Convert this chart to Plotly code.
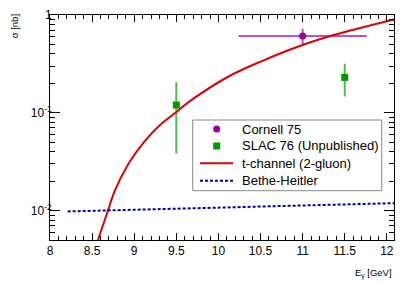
import plotly.graph_objects as go

# Data
cornell_x = [11.0]
cornell_y = [0.61]
cornell_xerr = [0.75]
cornell_yerr_plus = [0.10]
cornell_yerr_minus = [0.10]

slac_x = [9.5, 11.5]
slac_y = [0.12, 0.23]
slac_yerr_plus = [0.08, 0.08]
slac_yerr_minus = [0.081, 0.08]

tchan_x = [8.54, 8.57, 8.69, 8.77, 8.93, 9.13, 9.33, 9.49, 9.60, 9.72, 10.12, 10.51, 10.99, 11.36, 12.085]
tchan_y = [0.0041, 0.005, 0.0101, 0.016, 0.030, 0.052, 0.078, 0.100, 0.12, 0.143, 0.235, 0.336, 0.49, 0.62, 0.90]

bh_x = [8.21, 10.14, 12.085]
bh_y = [0.0098, 0.0108, 0.0119]

legend_names = ["Cornell 75", "SLAC 76 (Unpublished)", "t-channel (2-gluon)", "Bethe-Heitler"]

x_major = [8, 8.5, 9, 9.5, 10, 10.5, 11, 11.5, 12]
x_major_text = ["8", "8.5", "9", "9.5", "10", "10.5", "11", "11.5", "12"]
y_major = [0.01, 0.1, 1]
y_major_text = ["10<sup>-2</sup>", "10<sup>-1</sup>", "1"]

FONT = "Liberation Sans, Arial, Helvetica, sans-serif"
C_CORNELL = "#990099"
C_CORNELL_ERR = "#c050c0"
C_SLAC = "#009900"
C_SLAC_ERR = "#55bb55"
C_T = "#dd0000"
C_BH = "#0000aa"

x_minor = [round(8 + 0.1 * i, 2) for i in range(41)]
y_minor = [m * 10.0 ** e for e in (-3, -2, -1) for m in range(2, 10)]
y_minor = [v for v in y_minor if 0.005 <= v <= 1]

fig = go.Figure()

fig.add_trace(go.Scatter(
    x=cornell_x, y=cornell_y, mode="markers", name=legend_names[0], showlegend=False,
    marker=dict(symbol="circle", size=7, color=C_CORNELL),
    error_x=dict(type="data", array=cornell_xerr, color=C_CORNELL_ERR, thickness=2, width=1),
    error_y=dict(type="data", array=cornell_yerr_plus, arrayminus=cornell_yerr_minus,
                 color=C_CORNELL_ERR, thickness=2, width=1),
))
fig.add_trace(go.Scatter(
    x=slac_x, y=slac_y, mode="markers", name=legend_names[1], showlegend=False,
    marker=dict(symbol="square", size=7, color=C_SLAC),
    error_y=dict(type="data", array=slac_yerr_plus, arrayminus=slac_yerr_minus,
                 color=C_SLAC_ERR, thickness=2, width=1),
))
fig.add_trace(go.Scatter(
    x=tchan_x, y=tchan_y, mode="lines", name=legend_names[2], showlegend=False,
    line=dict(color=C_T, width=2, shape="spline", smoothing=1.0),
))
fig.add_trace(go.Scatter(
    x=bh_x, y=bh_y, mode="lines", name=legend_names[3], showlegend=False,
    line=dict(color=C_BH, width=2, dash="3px,2px"),
))

# ---- manual legend box (paper coordinates) ----
shapes = []
annotations = []
LX0, LX1, LY0, LY1 = 0.4148, 0.9643, 0.2191, 0.5333
shapes.append(dict(type="rect", xref="paper", yref="paper", x0=LX0, x1=LX1, y0=LY0, y1=LY1,
                   line=dict(color="#888888", width=1), fillcolor="white", layer="above"))
rows = [0.4933, 0.4178, 0.3409, 0.2636]
sym_x = 0.4846
shapes.append(dict(type="circle", xref="paper", yref="paper", xsizemode="pixel", ysizemode="pixel",
                   xanchor=sym_x, yanchor=rows[0], x0=-3.5, x1=3.5, y0=-3.5, y1=3.5,
                   fillcolor=C_CORNELL, line=dict(width=0), layer="above"))
shapes.append(dict(type="rect", xref="paper", yref="paper", xsizemode="pixel", ysizemode="pixel",
                   xanchor=sym_x, yanchor=rows[1], x0=-3.5, x1=3.5, y0=-3.5, y1=3.5,
                   fillcolor=C_SLAC, line=dict(width=0), layer="above"))
shapes.append(dict(type="line", xref="paper", yref="paper", x0=0.436, x1=0.532, y0=rows[2], y1=rows[2],
                   line=dict(color=C_T, width=2), layer="above"))
shapes.append(dict(type="line", xref="paper", yref="paper", x0=0.436, x1=0.532, y0=rows[3], y1=rows[3],
                   line=dict(color=C_BH, width=2, dash="3px,2px"), layer="above"))
for name, ry in zip(legend_names, rows):
    annotations.append(dict(text=name, xref="paper", yref="paper", x=0.5523, y=ry,
                            xanchor="left", yanchor="middle", showarrow=False,
                            font=dict(family=FONT, size=13, color="black")))

annotations.append(dict(text="E<sub>γ</sub> [GeV]", xref="paper", yref="paper", x=1.0, y=-0.147,
                        xanchor="right", yanchor="middle", showarrow=False,
                        font=dict(family=FONT, size=9.5)))
annotations.append(dict(text="σ [nb]", xref="paper", yref="paper", x=-0.103, y=1.01,
                        xanchor="center", yanchor="top", textangle=-90, showarrow=False,
                        font=dict(family=FONT, size=9.5)))

xaxis = dict(
    range=[8, 12.085], showgrid=False, zeroline=False, automargin=False,
    showline=True, linecolor="black", linewidth=1, mirror="ticks",
    ticks="inside", ticklen=7, tickcolor="black",
    tickvals=x_major, ticktext=x_major_text,
    tickfont=dict(family=FONT, size=12),
    minor=dict(tickvals=x_minor, ticks="inside", ticklen=4, tickcolor="black", showgrid=False),
)
yaxis = dict(
    type="log", range=[-2.30103, 0], showgrid=False, zeroline=False, automargin=False,
    showline=True, linecolor="black", linewidth=1, mirror="ticks",
    ticks="inside", ticklen=10, tickcolor="black",
    tickvals=y_major, ticktext=y_major_text,
    tickfont=dict(family=FONT, size=12),
    minor=dict(tickvals=y_minor, ticks="inside", ticklen=5, tickcolor="black", showgrid=False),
)

fig.update_layout(
    width=415, height=283,
    margin=dict(l=50, r=21, t=15, b=43),
    paper_bgcolor="white", plot_bgcolor="white",
    font=dict(family=FONT, size=12, color="black"),
    showlegend=False,
    xaxis=xaxis, yaxis=yaxis,
    shapes=shapes, annotations=annotations,
)

try:
    fig.update_yaxes(ticklabelstandoff=-5)
except Exception:
    pass

fig.write_html("out.html", config={"displayModeBar": False},
               post_script="document.body.style.margin='0';document.body.style.padding='0';")
